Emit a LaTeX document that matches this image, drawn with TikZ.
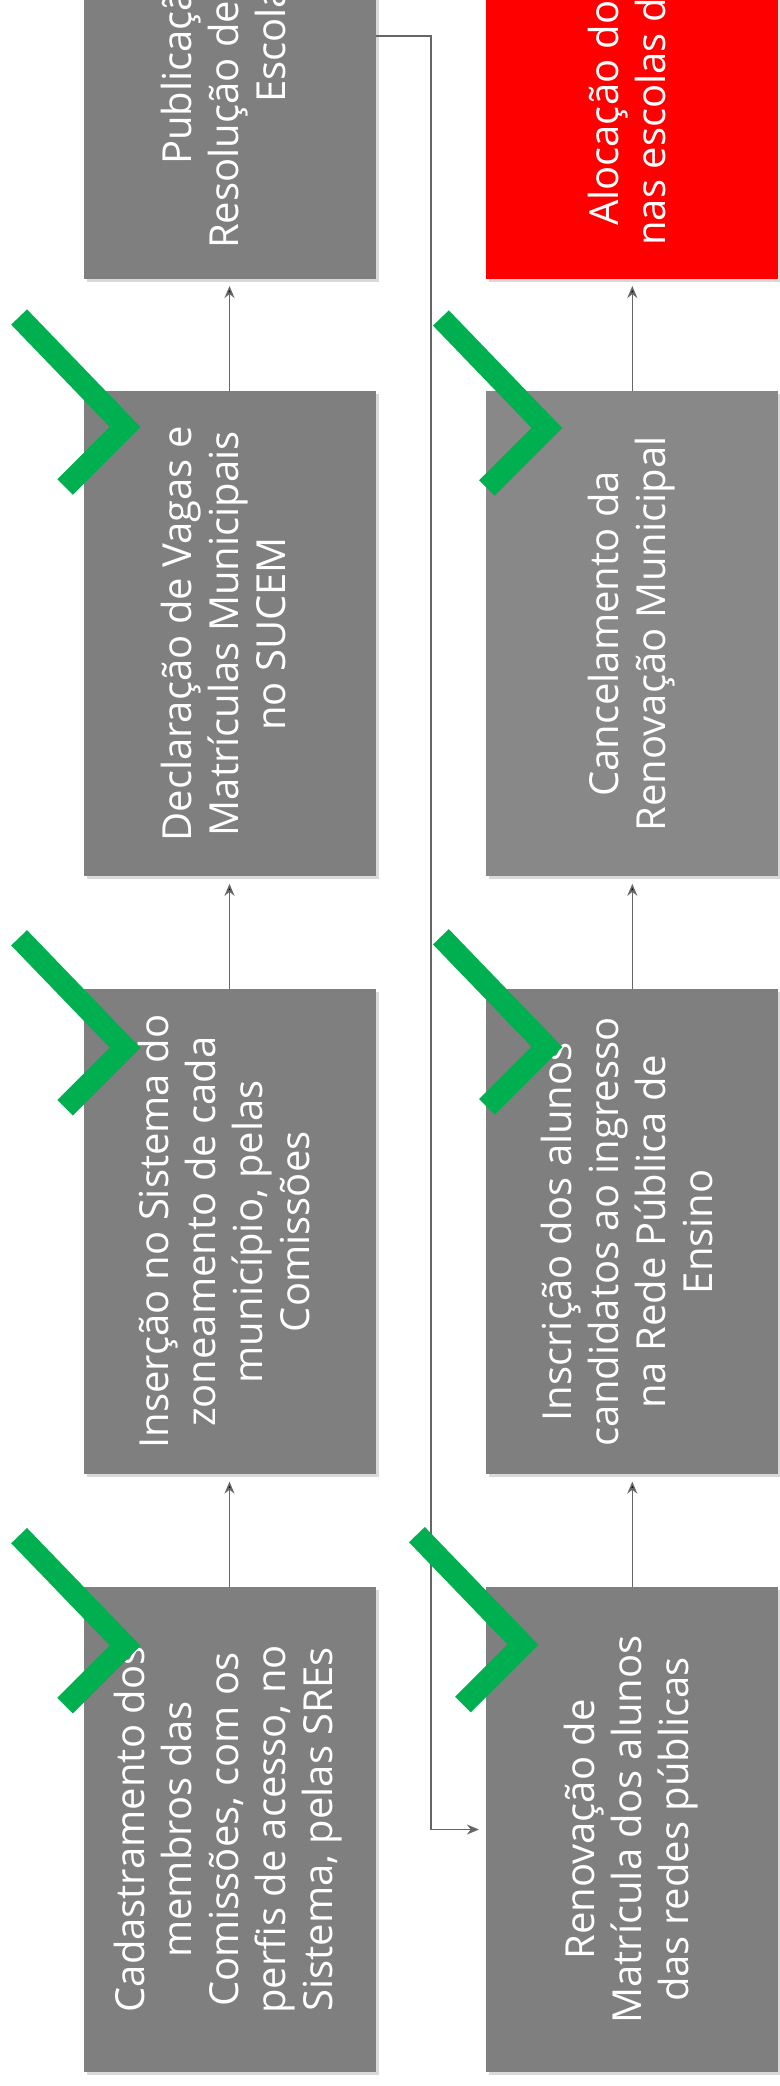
\documentclass[tikz,border=0pt]{standalone}
\usepackage{fontspec}
\usepackage{graphicx}
\setmainfont{Open Sans}
\usetikzlibrary{positioning, arrows.meta, shadows, calc}
\definecolor{boxgray}{HTML}{7F7F7F}
\definecolor{boxlight}{HTML}{888888}
\definecolor{alertred}{HTML}{FF0000}
\definecolor{tickgreen}{HTML}{00B050}
\definecolor{linegray}{HTML}{666666}
\tikzset{->, >={Stealth[length=6pt, width=5pt]}, node distance=56pt}
\tikzset{
    etapa/.style={rectangle, fill=boxgray, text=white, inner sep=0pt,
        minimum width=146pt, minimum height=242.5pt,
        font=\fontsize{20pt}{23.5pt}\selectfont,
        drop shadow={shadow xshift=1.5pt, shadow yshift=-1.5pt, opacity=0.3}},
    linha/.style={draw=linegray, line width=0.75pt, shorten >=3.5pt},
    visto/.style={-, draw=tickgreen, line width=11pt}
}
\newcommand{\vlines}[1]{\rotatebox{90}{\begin{tabular}{@{}c@{}}#1\end{tabular}}}

\begin{document}
\begin{tikzpicture}
    \useasboundingbox (0,0) rectangle (390pt,-1043pt);
    \node[etapa] (cadastro) at (114.75pt,-914.75pt) {\vlines{Cadastramento dos\\membros das\\Comissões, com os\\perfis de acesso, no\\Sistema, pelas SREs}};
    \node[etapa, above=of cadastro] (insercao) {\vlines{Inserção no Sistema do\\zoneamento de cada\\município, pelas\\Comissões}};
    \node[etapa, above=of insercao] (declaracao) {\vlines{Declaração de Vagas e\\Matrículas Municipais\\no SUCEM}};
    \node[etapa, above=of declaracao] (publicacao) {\vlines{Publicação da\\Resolução de Cadastro\\Escolar}};
    \node[etapa, right=55pt of cadastro] (renovacao) {\vlines{Renovação de\\Matrícula dos alunos\\das redes públicas}};
    \node[etapa, above=of renovacao] (inscricao) {\vlines{Inscrição dos alunos\\candidatos ao ingresso\\na Rede Pública de\\Ensino}};
    \node[etapa, fill=boxlight, above=of inscricao] (cancelamento) {\vlines{Cancelamento da\\Renovação Municipal}};
    \node[etapa, fill=alertred, above=of cancelamento] (alocacao) {\vlines{Alocação dos alunos\\nas escolas de destino}};
    \draw[linha] (cadastro) edge (insercao)
        (insercao) edge (declaracao)
        (declaracao) edge (publicacao)
        (renovacao) edge (inscricao)
        (inscricao) edge (cancelamento)
        (cancelamento) edge (alocacao);
    \draw[linha] (publicacao.east) -- ++(27.5pt,0) |- (renovacao.west);
    % marcas de conclusao
    \foreach \n/\dx/\dy in {declaracao/21/-18, insercao/21/-29.5, cadastro/21/-29.5,
        cancelamento/30.5/-18.5, inscricao/30.5/-29, renovacao/18.5/-29}
        \draw[visto] ($(\n.north west)+(\dx pt-53pt,\dy pt+55pt)$) -- ++(53pt,-55pt) -- ++(-30pt,-30pt);
\end{tikzpicture}
\end{document}
